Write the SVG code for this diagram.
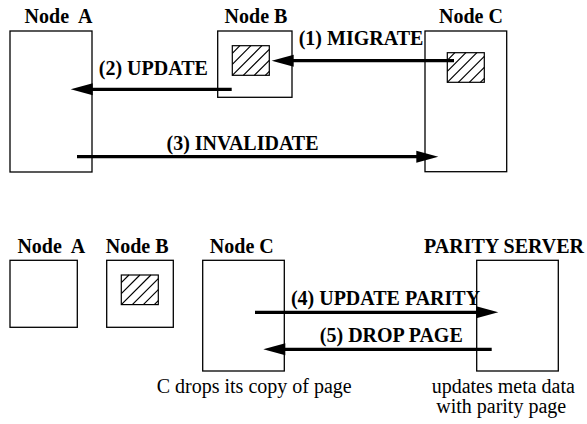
<svg xmlns="http://www.w3.org/2000/svg" width="587" height="424" viewBox="0 0 587 424">
<style>
.box{fill:#fff;stroke:#000;stroke-width:1.3}
.hbox{fill:#fff;stroke:#000;stroke-width:1.2}
.hl{stroke:#000;stroke-width:1.2}
.arr{stroke:#000;stroke-width:3.2;fill:none}
.head{fill:#000;stroke:none}
</style>
<g id="top-nodeA">
<rect class="box" x="10" y="31" width="82" height="141"/>
<text x="58.5" y="23" font-family="Liberation Serif, serif" font-size="20" font-weight="bold" text-anchor="middle" xml:space="preserve">Node  A</text>
</g>
<g id="top-nodeB">
<rect class="box" x="217.7" y="31" width="74.3" height="66.3"/>
<g transform="translate(232.3,45.7)">
<rect class="hbox" width="37" height="29.6"/>
<path class="hl" d="M0,7.6L7.6,0M0,18.6L18.6,0M0,29.6L29.6,0M11,29.6L37,3.6M22,29.6L37,14.6M33,29.6L37,25.6"/>
</g>
<text x="256" y="23" font-family="Liberation Serif, serif" font-size="20" font-weight="bold" text-anchor="middle">Node B</text>
</g>
<g id="top-nodeC">
<rect class="box" x="425" y="31" width="81.7" height="140.7"/>
<g transform="translate(447.3,52.7)">
<rect class="hbox" width="37" height="29.6"/>
<path class="hl" d="M0,7.6L7.6,0M0,18.6L18.6,0M0,29.6L29.6,0M11,29.6L37,3.6M22,29.6L37,14.6M33,29.6L37,25.6"/>
</g>
<text x="471" y="23" font-family="Liberation Serif, serif" font-size="20" font-weight="bold" text-anchor="middle">Node C</text>
</g>
<g id="bot-nodeA">
<rect class="box" x="10" y="260.3" width="67.3" height="67"/>
<text x="51.3" y="252.7" font-family="Liberation Serif, serif" font-size="20" font-weight="bold" text-anchor="middle" xml:space="preserve">Node  A</text>
</g>
<g id="bot-nodeB">
<rect class="box" x="106.7" y="260.3" width="66.6" height="67"/>
<g transform="translate(121.3,275)">
<rect class="hbox" width="37" height="29.6"/>
<path class="hl" d="M0,7.6L7.6,0M0,18.6L18.6,0M0,29.6L29.6,0M11,29.6L37,3.6M22,29.6L37,14.6M33,29.6L37,25.6"/>
</g>
<text x="137.2" y="252.7" font-family="Liberation Serif, serif" font-size="20" font-weight="bold" text-anchor="middle">Node B</text>
</g>
<g id="bot-nodeC">
<rect class="box" x="202.7" y="260.3" width="81.6" height="110.7"/>
<text x="241.8" y="252.7" font-family="Liberation Serif, serif" font-size="20" font-weight="bold" text-anchor="middle">Node C</text>
</g>
<g id="parity-server">
<rect class="box" x="476.7" y="260.3" width="81.6" height="110.7"/>
<text x="504" y="252.7" font-family="Liberation Serif, serif" font-size="20" font-weight="bold" text-anchor="middle">PARITY SERVER</text>
</g>
<g id="connectors">
<path class="arr" d="M454,60.7 L291.7,60.7"/>
<polygon class="head" points="271.7,60.7 293.7,54.7 293.7,66.7"/>
<text x="361" y="45" font-family="Liberation Serif, serif" font-size="20" font-weight="bold" text-anchor="middle">(1) MIGRATE</text>
<path class="arr" d="M231.7,89.3 L90.7,89.3"/>
<polygon class="head" points="70.7,89.3 92.7,83.3 92.7,95.3"/>
<text x="153.3" y="75" font-family="Liberation Serif, serif" font-size="20" font-weight="bold" text-anchor="middle">(2) UPDATE</text>
<path class="arr" d="M77,156.7 L418.3,156.7"/>
<polygon class="head" points="438.3,156.7 416.3,150.7 416.3,162.7"/>
<text x="242.5" y="150" font-family="Liberation Serif, serif" font-size="20" font-weight="bold" text-anchor="middle">(3) INVALIDATE</text>
<path class="arr" d="M255,312.3 L478.3,312.3"/>
<polygon class="head" points="498.3,312.3 476.3,306.3 476.3,318.3"/>
<text x="385.5" y="305" font-family="Liberation Serif, serif" font-size="20" font-weight="bold" text-anchor="middle">(4) UPDATE PARITY</text>
<path class="arr" d="M491.7,349.3 L283.3,349.3"/>
<polygon class="head" points="263.3,349.3 285.3,343.3 285.3,355.3"/>
<text x="391.3" y="341.7" font-family="Liberation Serif, serif" font-size="20" font-weight="bold" text-anchor="middle">(5) DROP PAGE</text>
</g>
<text x="254.2" y="393.3" font-family="Liberation Serif, serif" font-size="20" text-anchor="middle">C drops its copy of page</text>
<text x="503.3" y="393.3" font-family="Liberation Serif, serif" font-size="20" text-anchor="middle">updates meta data</text>
<text x="501.2" y="413.3" font-family="Liberation Serif, serif" font-size="20" text-anchor="middle">with parity page</text>
</svg>
